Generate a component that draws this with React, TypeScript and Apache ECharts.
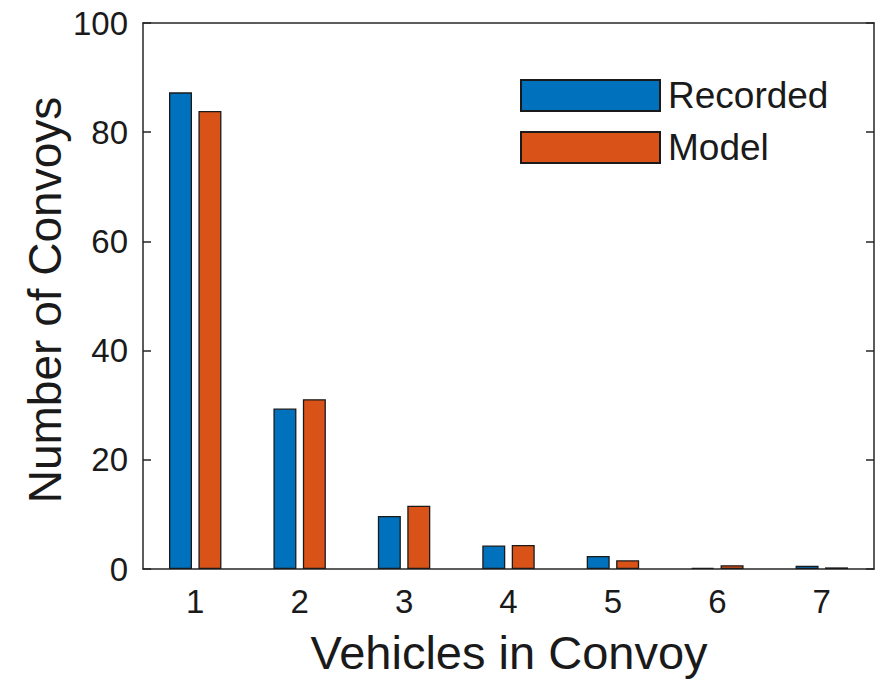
import React, { useEffect, useRef } from "react";
import * as echarts from "echarts";

// Convoy size histogram: recorded counts versus model prediction
const vehicleCounts = ["1", "2", "3", "4", "5", "6", "7"];
const recorded = [87.3, 29.4, 9.7, 4.3, 2.4, 0.2, 0.6];
const model = [83.9, 31.1, 11.6, 4.4, 1.6, 0.7, 0.3];
const yTicks = [0, 20, 40, 60, 80, 100];

const FONT = "'Liberation Sans', Arial, Helvetica, sans-serif";
const AXIS_COLOR = "#262626";

export default function App() {
  const ref = useRef<HTMLDivElement>(null);

  useEffect(() => {
    document.body.style.margin = "0";
    if (!ref.current) return;
    const chart = echarts.init(ref.current, undefined, { renderer: "svg" });

    const barCommon = {
      type: "bar" as const,
      barWidth: 23,
      barGap: "28%",
      itemStyle: { borderColor: "#1a1a1a", borderWidth: 1.3 },
    };

    const tickStyle = { color: AXIS_COLOR, width: 1.5 };

    chart.setOption({
      animation: false,
      backgroundColor: "#ffffff",
      textStyle: { fontFamily: FONT },
      grid: { left: 143, top: 23, right: 2, bottom: 110 },
      legend: {
        left: 515,
        top: 72,
        orient: "vertical",
        itemWidth: 139,
        itemHeight: 31,
        itemGap: 15,
        icon: "rect",
        textStyle: { fontSize: 37, color: "#1a1a1a", fontFamily: FONT, padding: [0, 0, 0, 3] },
        data: ["Recorded", "Model"],
      },
      xAxis: [
        {
          type: "category",
          data: vehicleCounts,
          position: "bottom",
          axisLine: { onZero: false, lineStyle: tickStyle },
          axisTick: { inside: true, length: 8, alignWithLabel: true, lineStyle: tickStyle },
          axisLabel: { fontSize: 33, color: "#1a1a1a", margin: 16, fontFamily: FONT },
          splitLine: { show: false },
        },
        {
          type: "category",
          data: vehicleCounts,
          position: "top",
          axisLine: { onZero: false, lineStyle: tickStyle },
          axisTick: { inside: true, length: 8, alignWithLabel: true, lineStyle: tickStyle },
          axisLabel: { show: false },
          splitLine: { show: false },
        },
      ],
      yAxis: [
        {
          type: "value",
          min: yTicks[0],
          max: yTicks[yTicks.length - 1],
          interval: 20,
          position: "left",
          axisLine: { show: true, onZero: false, lineStyle: tickStyle },
          axisTick: { show: true, inside: true, length: 8, lineStyle: tickStyle },
          axisLabel: { fontSize: 33, color: "#1a1a1a", margin: 15, fontFamily: FONT },
          splitLine: { show: false },
        },
        {
          type: "value",
          min: yTicks[0],
          max: yTicks[yTicks.length - 1],
          interval: 20,
          position: "right",
          axisLine: { show: true, onZero: false, lineStyle: tickStyle },
          axisTick: { show: true, inside: true, length: 8, lineStyle: tickStyle },
          axisLabel: { show: false },
          splitLine: { show: false },
        },
      ],
      series: [
        { ...barCommon, name: "Recorded", data: recorded, itemStyle: { ...barCommon.itemStyle, color: "#0072BD" } },
        { ...barCommon, name: "Model", data: model, itemStyle: { ...barCommon.itemStyle, color: "#D95319" } },
      ],
      graphic: [
        {
          type: "text",
          x: 509,
          y: 652,
          style: {
            text: "Vehicles in Convoy",
            font: `47px ${FONT}`,
            fill: "#1a1a1a",
            align: "center",
            verticalAlign: "middle",
          },
        },
        {
          type: "text",
          x: 45,
          y: 300,
          rotation: Math.PI / 2,
          style: {
            text: "Number of Convoys",
            font: `46px ${FONT}`,
            fill: "#1a1a1a",
            align: "center",
            verticalAlign: "middle",
          },
        },
      ],
    });

    return () => chart.dispose();
  }, []);

  return <div ref={ref} style={{ width: 876, height: 679 }} />;
}
